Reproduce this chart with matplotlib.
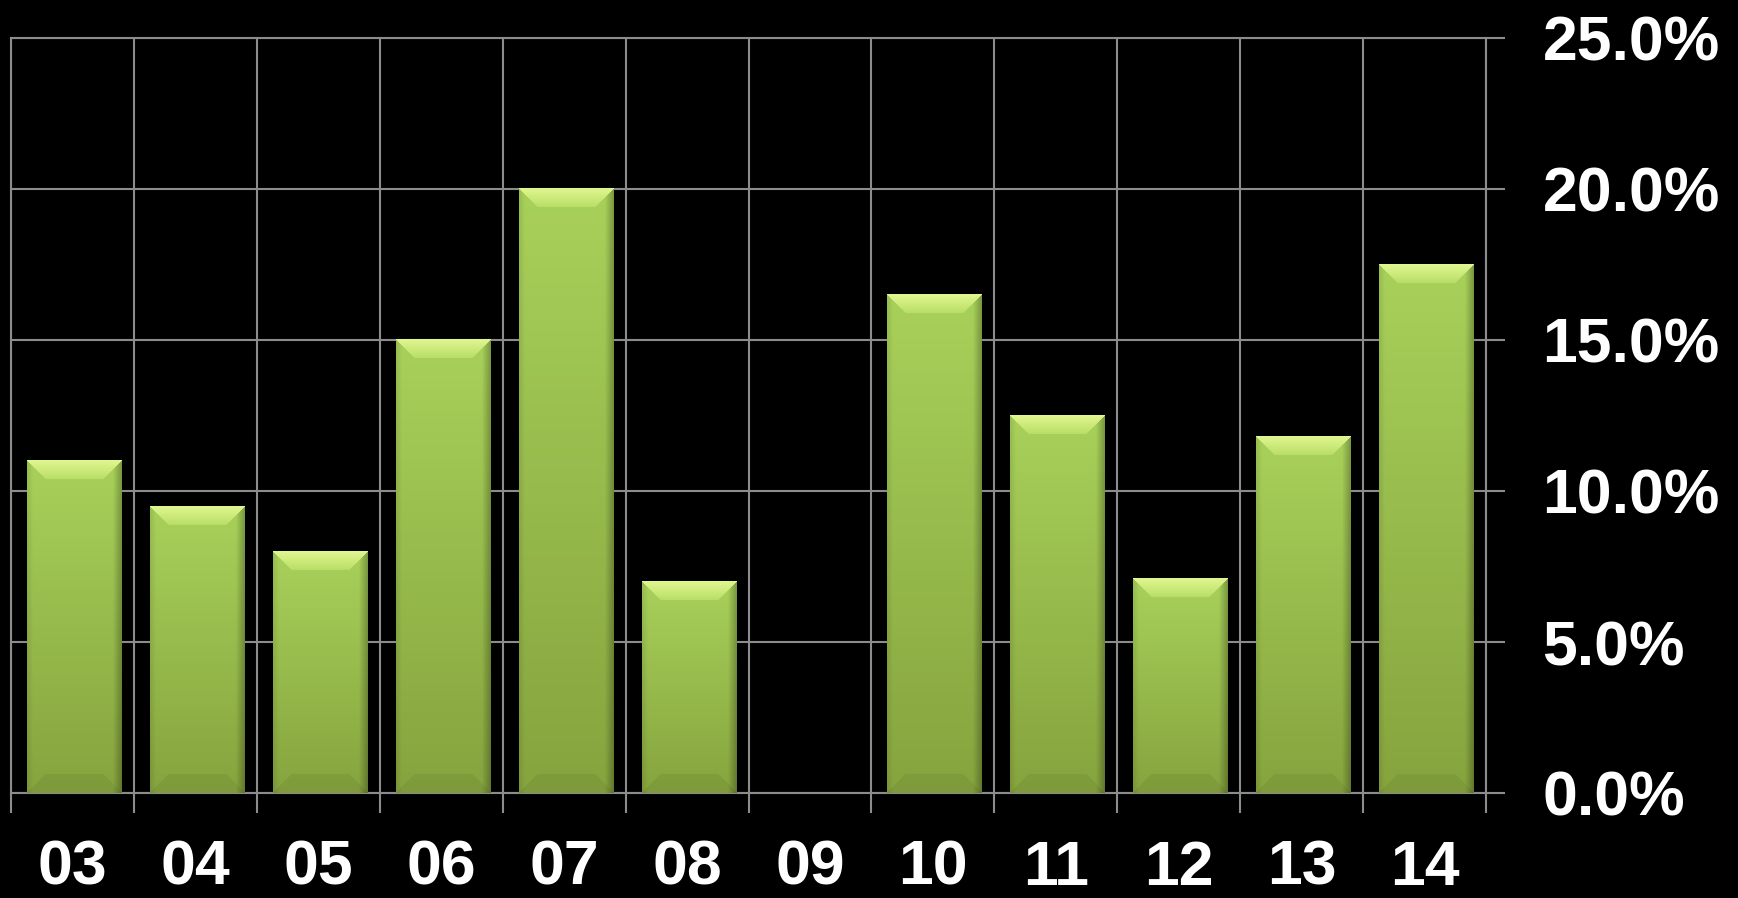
import numpy as np
import matplotlib
matplotlib.use('Agg')
import matplotlib.pyplot as plt

categories = ['03', '04', '05', '06', '07', '08', '09', '10', '11', '12', '13', '14']
values = [11.0, 9.5, 8.0, 15.0, 20.0, 7.0, 0.0, 16.5, 12.5, 7.1, 11.8, 17.5]
y_ticks = [0, 5, 10, 15, 20, 25]
y_labels = ['0.0%', '5.0%', '10.0%', '15.0%', '20.0%', '25.0%']

W, H, DPI = 1738, 898, 100
AX_L, AX_R, AX_T, AX_B = 11, 1486, 38, 793
GRID = '#8c8c8c'
FONT = 'Liberation Sans'
FS = 45

fig = plt.figure(figsize=(W / DPI, H / DPI), dpi=DPI, facecolor='black')
ax = fig.add_axes([AX_L / W, 1 - AX_B / H, (AX_R - AX_L) / W, (AX_B - AX_T) / H])
ax.set_facecolor('black')

n = len(categories)
x = np.arange(n)
ymax = y_ticks[-1]
bar_w = 0.765
bars = ax.bar(x + 0.012, values, width=bar_w, color='#a6cf58', linewidth=0, zorder=2)

px_x = (AX_R - AX_L) / n
px_y = (AX_B - AX_T) / ymax


def bevel_image(wp, hp):
    rows = (np.arange(hp) + 0.5)[:, None] * np.ones((1, wp))
    cols = (np.arange(wp) + 0.5)[None, :] * np.ones((hp, 1))
    dt = rows
    db = hp - rows
    dl = cols
    dr = wp - cols
    t = (rows / hp)[..., None]
    top_c = np.array([168, 209, 90]) / 255
    bot_c = np.array([134, 164, 62]) / 255
    img = top_c * (1 - t) + bot_c * t
    rf = np.clip(dr / 9.0, 0, 1)[..., None]
    img = img * (0.72 + 0.28 * rf)
    lf = np.clip(dl / 6.0, 0, 1)[..., None]
    img = img * (0.90 + 0.10 * lf)
    d = min(19.0, hp / 2.0, wp / 2.0)
    topmask = (dt < d) & (dt <= dl) & (dt <= dr)
    s = (dt / d)[..., None]
    light = np.array([226, 247, 146]) / 255
    mid = np.array([184, 222, 102]) / 255
    top_col = light * (1 - s) + mid * s
    img = np.where(topmask[..., None], top_col, img)
    botmask = (db < d) & (db <= dl) & (db <= dr)
    img = np.where(botmask[..., None], img * 0.94, img)
    return np.clip(img, 0, 1)


for rect in bars:
    h = rect.get_height()
    if h <= 0:
        continue
    x0 = rect.get_x()
    w = rect.get_width()
    wp = int(round(w * px_x))
    hp = int(round(h * px_y))
    img = bevel_image(wp, hp)
    ax.imshow(img, extent=(x0, x0 + w, 0, h), aspect='auto', origin='upper',
              interpolation='bilinear', zorder=3)

ax.set_xlim(-0.5, n - 0.5)
ax.set_ylim(0, ymax)
ax.set_aspect('auto')

ax.set_xticks(x)
ax.set_xticklabels(categories)
ax.set_xticks(np.arange(n + 1) - 0.5, minor=True)
ax.yaxis.tick_right()
ax.set_yticks(y_ticks)
ax.set_yticklabels(y_labels)

ax.tick_params(axis='x', which='major', length=0, pad=33, labelsize=FS, labelcolor='white')
ax.tick_params(axis='x', which='minor', length=14.4, width=1.5, color=GRID, direction='out')
ax.tick_params(axis='y', which='major', length=13.7, width=1.5, color=GRID, direction='out',
               pad=27, labelsize=FS, labelcolor='white')
for lab in ax.get_xticklabels() + ax.get_yticklabels():
    lab.set_fontfamily(FONT)
    lab.set_fontweight('bold')

ax.grid(True, axis='x', which='minor', color=GRID, linewidth=1.5, zorder=1)
ax.grid(True, axis='y', which='major', color=GRID, linewidth=1.5, zorder=1)
ax.grid(False, axis='x', which='major')
ax.set_axisbelow(True)
for sp in ax.spines.values():
    sp.set_color(GRID)
    sp.set_linewidth(1.5)
    sp.set_zorder(1)

fig.savefig('out.png', dpi=DPI, facecolor='black')
